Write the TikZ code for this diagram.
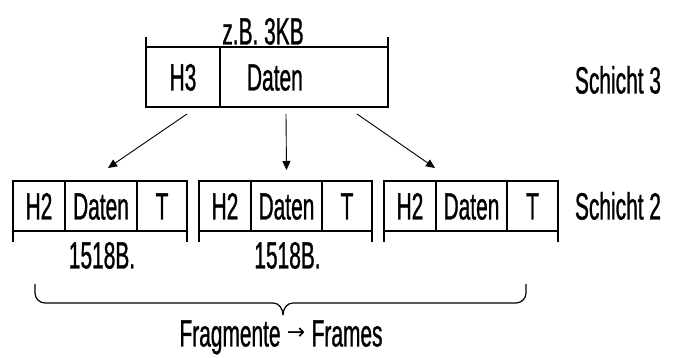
\documentclass[tikz,border=0pt]{standalone}
\usepackage{fontspec}
\setmainfont{Liberation Sans}[FakeStretch=0.55,FakeBold=0.8]
\newfontfamily\arrowfont{DejaVu Sans}
\usetikzlibrary{arrows.meta,calc}

\begin{document}
\begin{tikzpicture}[x=1pt,y=1pt,
  txt/.style={inner sep=0pt, outer sep=0pt, font=\fontsize{38}{38}\selectfont,
              text height=27pt, text depth=0pt},
  cell/.style={txt, draw, line width=1.3pt, minimum height=#1},
  cell/.default=50pt,
  tick/.style={line width=1.3pt},
  arr/.style={line width=0.9pt, -{Triangle[length=9pt,width=8pt]}},
  brace/.style={line width=1.2pt, line join=round}]
\useasboundingbox (0,0) rectangle (673,358);

% layer 3 packet
\node[cell=60pt, minimum width=74pt] (h3) at (183,281) {H3};
\node[cell=60pt, anchor=west, inner xsep=27pt, text width=114pt, align=left] (d3) at (h3.east) {Daten};
\draw[tick] (h3.north west) -- ++(0,10);
\draw[tick] (d3.north east) -- ++(0,10);
\node[txt] (size3) at ($(h3.north west)!0.5!(d3.north east)+(-4,16)$) {z.B. 3KB};
\node[txt, anchor=west] (l3) at (575,278) {Schicht 3};

% layer 2 frames
\node[cell, minimum width=52pt] (a1) at (39,152) {H2};
\node[cell, minimum width=72pt, anchor=west] (a2) at (a1.east) {Daten};
\node[cell, minimum width=50pt, anchor=west] (a3) at (a2.east) {T};

\node[cell, minimum width=52pt] (b1) at (225,152) {H2};
\node[cell, minimum width=71pt, anchor=west] (b2) at (b1.east) {Daten};
\node[cell, minimum width=50pt, anchor=west] (b3) at (b2.east) {T};

\node[cell, minimum width=52pt] (c1) at (410,152) {H2};
\node[cell, minimum width=71pt, anchor=west] (c2) at (c1.east) {Daten};
\node[cell, minimum width=51pt, anchor=west] (c3) at (c2.east) {T};

\node[txt, anchor=west] (l2) at (575,152) {Schicht 2};

% size ticks below the frames
\foreach \f in {a,b,c}{
  \draw[tick] (\f1.south west) -- ++(0,-11);
  \draw[tick] (\f3.south east) -- ++(0,-11);
}
\node[txt] (sa) at ($(a1.south west)!0.5!(a3.south east)+(2,-24)$) {1518B.};
\node[txt] (sb) at ($(b1.south west)!0.5!(b3.south east)+(2,-24)$) {1518B.};

% fragmentation arrows
\draw[arr] ([shift={(-117,-7)}]d3.south) -- ([shift={(7,13)}]a2.north);
\draw[arr] ([shift={(-18,-7)}]d3.south) -- ([shift={(0,11)}]b2.north);
\draw[arr] ([shift={(53,-7)}]d3.south) -- ([shift={(-36.5,13)}]c2.north);

% brace under the frames
\coordinate (bl) at (35,74);
\coordinate (br) at (526,74);
\coordinate (bt) at (283,43);
\draw[brace] (bl) -- ++(0,-9) to[out=-90,in=180] ++(10,-10)
  -- ($(bt)+(-10,12)$) to[out=0,in=90] (bt) to[out=90,in=180] ($(bt)+(10,12)$)
  -- ($(br)+(-10,-19)$) to[out=0,in=-90] ++(10,10) -- (br);
\node[txt] (frag) at ($(bt)+(-2,-18)$)
  {Fragmente\,{\arrowfont\fontsize{22}{22}\selectfont\raisebox{7pt}{→}}\,Frames};
\end{tikzpicture}
\end{document}
